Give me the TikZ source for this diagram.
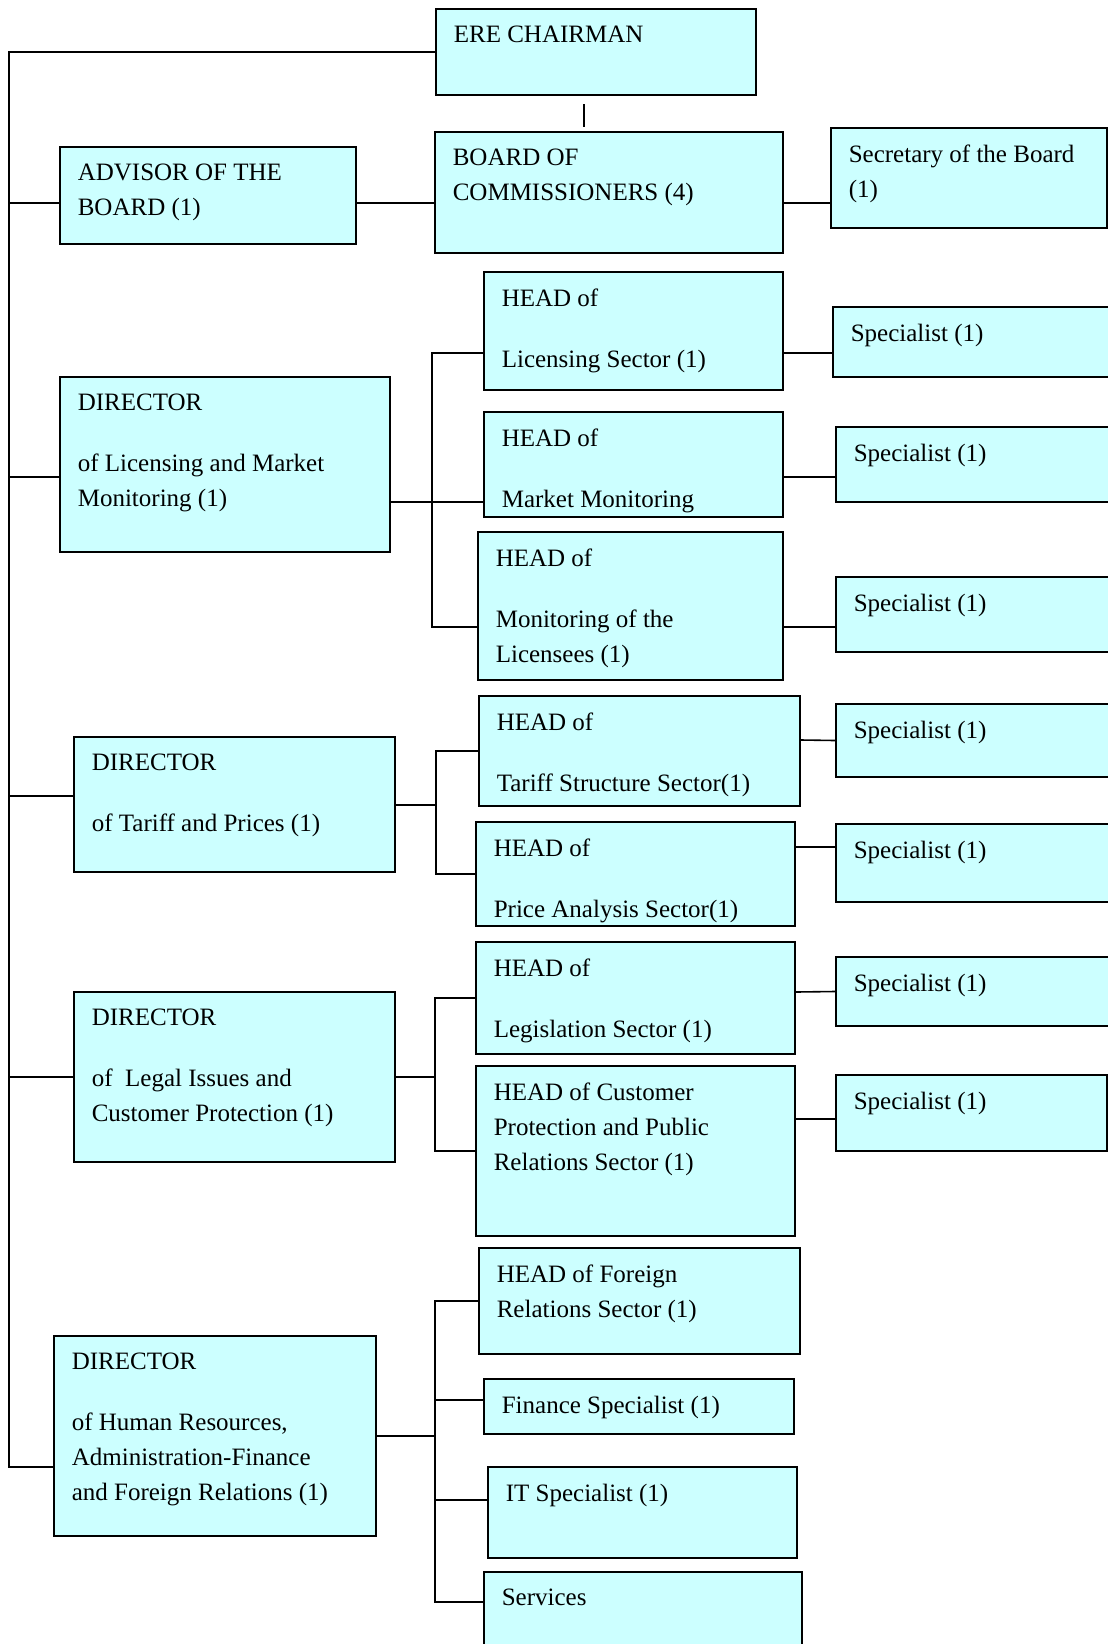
\documentclass[tikz,border=0pt]{standalone}
\usepackage{fontspec}
\setmainfont{Liberation Serif}

\definecolor{boxcyan}{RGB}{204,255,255}

\begin{document}
\begin{tikzpicture}[x=1pt,y=-1pt,line width=1.6pt,
  unit/.style={draw,fill=boxcyan,line width=2pt,anchor=north west,inner sep=0pt},
  txt/.style={anchor=north west,xshift=18pt,yshift=-17pt,inner sep=0pt,
    align=left,font=\fontsize{25}{35}\selectfont}]

  \clip (0,0) rectangle (1108,1644);

  % top of the chart
  \node[unit,minimum width=320pt,minimum height=86pt] (chair) at (435,8) {};
  \node[unit,minimum width=348pt,minimum height=121pt] (board) at (434,131) {};
  \node[unit,minimum width=296pt,minimum height=97pt] (advisor) at (59,146) {};
  \node[unit,minimum width=276pt,minimum height=100pt] (secretary) at (830,127) {};

  % licensing and market monitoring
  \node[unit,minimum width=330pt,minimum height=175pt] (dirLic) at (59,376) {};
  \node[unit,minimum width=299pt,minimum height=118pt] (headLic) at (483,271) {};
  \node[unit,minimum width=299pt,minimum height=105pt] (headMkt) at (483,411) {};
  \node[unit,minimum width=305pt,minimum height=148pt] (headMon) at (477,531) {};
  \node[unit,minimum width=290pt,minimum height=70pt] (spec1) at (832,306) {};
  \node[unit,minimum width=290pt,minimum height=75pt] (spec2) at (835,426) {};
  \node[unit,minimum width=290pt,minimum height=75pt] (spec3) at (835,576) {};

  % tariff and prices
  \node[unit,minimum width=321pt,minimum height=135pt] (dirTar) at (73,736) {};
  \node[unit,minimum width=321pt,minimum height=110pt] (headTar) at (478,695) {};
  \node[unit,minimum width=319pt,minimum height=104pt] (headPrice) at (475,821) {};
  \node[unit,minimum width=290pt,minimum height=73pt] (spec4) at (835,703) {};
  \node[unit,minimum width=290pt,minimum height=78pt] (spec5) at (835,823) {};

  % legal issues
  \node[unit,minimum width=321pt,minimum height=170pt] (dirLegal) at (73,991) {};
  \node[unit,minimum width=319pt,minimum height=112pt] (headLeg) at (475,941) {};
  \node[unit,minimum width=319pt,minimum height=170pt] (headCust) at (475,1065) {};
  \node[unit,minimum width=290pt,minimum height=69pt] (spec6) at (835,956) {};
  \node[unit,minimum width=271pt,minimum height=76pt] (spec7) at (835,1074) {};

  % human resources
  \node[unit,minimum width=322pt,minimum height=200pt] (dirHR) at (53,1335) {};
  \node[unit,minimum width=321pt,minimum height=106pt] (headFor) at (478,1247) {};
  \node[unit,minimum width=310pt,minimum height=55pt] (fin) at (483,1378) {};
  \node[unit,minimum width=309pt,minimum height=91pt] (it) at (487,1466) {};
  \node[unit,minimum width=318pt,minimum height=100pt] (serv) at (483,1571) {};

  % texts
  \node[txt] (chair text) at (chair.north west) {ERE CHAIRMAN};
  \node[txt] (board text) at (board.north west) {BOARD OF\\COMMISSIONERS (4)};
  \node[txt] (advisor text) at (advisor.north west) {ADVISOR OF THE\\BOARD (1)};
  \node[txt] (secretary text) at (secretary.north west) {Secretary of the Board\\(1)};
  \node[txt] (dirLic text) at (dirLic.north west) {DIRECTOR\\[26pt]of Licensing and Market\\Monitoring (1)};
  \node[txt] (headLic text) at (headLic.north west) {HEAD of\\[26pt]Licensing Sector (1)};
  \node[txt] (headMkt text) at (headMkt.north west) {HEAD of\\[26pt]Market Monitoring};
  \node[txt] (headMon text) at (headMon.north west) {HEAD of\\[26pt]Monitoring of the\\Licensees (1)};
  \node[txt] (spec1 text) at (spec1.north west) {Specialist (1)};
  \node[txt] (spec2 text) at (spec2.north west) {Specialist (1)};
  \node[txt] (spec3 text) at (spec3.north west) {Specialist (1)};
  \node[txt] (dirTar text) at (dirTar.north west) {DIRECTOR\\[26pt]of Tariff and Prices (1)};
  \node[txt] (headTar text) at (headTar.north west) {HEAD of\\[26pt]Tariff Structure Sector(1)};
  \node[txt] (headPrice text) at (headPrice.north west) {HEAD of\\[26pt]Price Analysis Sector(1)};
  \node[txt] (spec4 text) at (spec4.north west) {Specialist (1)};
  \node[txt] (spec5 text) at (spec5.north west) {Specialist (1)};
  \node[txt] (dirLegal text) at (dirLegal.north west) {DIRECTOR\\[26pt]of \ Legal Issues and\\Customer Protection (1)};
  \node[txt] (headLeg text) at (headLeg.north west) {HEAD of\\[26pt]Legislation Sector (1)};
  \node[txt] (headCust text) at (headCust.north west) {HEAD of Customer\\Protection and Public\\Relations Sector (1)};
  \node[txt] (spec6 text) at (spec6.north west) {Specialist (1)};
  \node[txt] (spec7 text) at (spec7.north west) {Specialist (1)};
  \node[txt] (dirHR text) at (dirHR.north west) {DIRECTOR\\[26pt]of Human Resources,\\Administration-Finance\\and Foreign Relations (1)};
  \node[txt] (headFor text) at (headFor.north west) {HEAD of Foreign\\Relations Sector (1)};
  \node[txt] (fin text) at (fin.north west) {Finance Specialist (1)};
  \node[txt] (it text) at (it.north west) {IT Specialist (1)};
  \node[txt] (serv text) at (serv.north west) {Services};

  % bus points
  \coordinate (trunk) at ([xshift=-426pt]chair.west);
  \coordinate (licbus) at ([xshift=-45pt,yshift=-21pt]headMon.west);
  \coordinate (tarbus) at ([xshift=-39pt]headPrice.west);
  \coordinate (legbus) at ([xshift=-40pt]headCust.west);
  \coordinate (hrbus) at ([xshift=-48pt,yshift=20pt]serv.west);

  % connectors
  \draw (chair.west) -- (trunk) |- ([yshift=-31pt]dirHR.west);
  \draw ([yshift=-7.5pt]advisor.west) -| (trunk);
  \draw ([yshift=-12.5pt]dirLic.west) -| (trunk);
  \draw ([yshift=8.5pt]dirTar.west) -| (trunk);
  \draw (dirLegal.west) -| (trunk);

  \draw ([xshift=-12pt,yshift=-8pt]chair.south) -- ([xshift=-25pt,yshift=4pt]board.north);
  \draw ([yshift=-7.5pt]advisor.east) -- ([yshift=-10.5pt]board.west);
  \draw ([yshift=-10.5pt]board.east) -- ([yshift=-25pt]secretary.west);

  \draw ([yshift=-22pt]headLic.west) -| (licbus) -- ([yshift=-21pt]headMon.west);
  \draw ([yshift=-37.5pt]dirLic.east) -- ([yshift=-37.5pt]headMkt.west);
  \draw ([yshift=-22pt]headLic.east) -- ([yshift=-11pt]spec1.west);
  \draw ([yshift=-12.5pt]headMkt.east) -- ([yshift=-12.5pt]spec2.west);
  \draw ([yshift=-21pt]headMon.east) -- ([yshift=-12.5pt]spec3.west);

  \draw (headTar.west) -| (tarbus) -- (headPrice.west);
  \draw ([yshift=-0.5pt]dirTar.east) -| (tarbus);
  \draw ([yshift=11pt]headTar.east) -- (spec4.west);
  \draw ([yshift=27pt]headPrice.east) -- ([yshift=16pt]spec5.west);

  \draw (headLeg.west) -| (legbus) -- (headCust.west);
  \draw (dirLegal.east) -- (dirLegal.east -| legbus);
  \draw ([yshift=6pt]headLeg.east) -- (spec6.west);
  \draw ([yshift=32pt]headCust.east) -- ([yshift=-6pt]spec7.west);

  \draw (headFor.west) -| (hrbus) -- ([yshift=20pt]serv.west);
  \draw ([yshift=6.5pt]fin.west) -| (hrbus);
  \draw ([yshift=12.5pt]it.west) -| (hrbus);
  \draw (dirHR.east) -| (hrbus);
\end{tikzpicture}
\end{document}
